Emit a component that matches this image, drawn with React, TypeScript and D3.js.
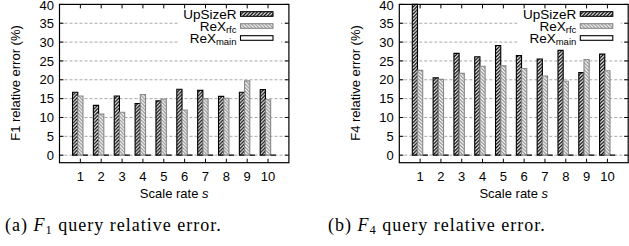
import * as d3 from "d3";
import React, { useEffect, useRef } from "react";

// Scale rates on the x axis
const scaleRates = [1, 2, 3, 4, 5, 6, 7, 8, 9, 10];
const yTicks = [0, 5, 10, 15, 20, 25, 30, 35, 40];

// F1 query relative error (%)
const f1UpSizeR = [16.7, 13.2, 15.7, 13.7, 14.4, 17.5, 17.2, 15.6, 16.7, 17.4];
const f1ReXrfc = [15.7, 10.9, 11.4, 16.1, 14.9, 12.0, 15.0, 15.1, 19.7, 14.7];
const f1ReXmain = [0, 0, 0, 0, 0, 0, 0, 0, 0, 0];

// F4 query relative error (%)
const f4UpSizeR = [40, 20.5, 27.0, 26.1, 29.1, 26.4, 25.5, 27.8, 21.9, 26.8];
const f4ReXrfc = [22.5, 20.1, 21.7, 23.6, 23.7, 23.0, 21.0, 19.6, 25.4, 22.4];
const f4ReXmain = [0, 0, 0, 0, 0, 0, 0, 0, 0, 0];

const W = 629;
const H = 246;
const sansFont = "'Liberation Sans', Arial, Helvetica, sans-serif";
const serifFont = "'Liberation Serif', 'DejaVu Serif', serif";

export default function App() {
  const ref = useRef<SVGSVGElement>(null);

  useEffect(() => {
    const svg = d3.select(ref.current);
    svg.selectAll("*").remove();

    // Hatch patterns, gnuplot style
    const defs = svg.append("defs");
    const hatch = (id: string, color: string, dir: number, sw: number) => {
      const p = defs
        .append("pattern")
        .attr("id", id)
        .attr("patternUnits", "userSpaceOnUse")
        .attr("width", 3.5)
        .attr("height", 3.5);
      p.append("rect").attr("width", 3.5).attr("height", 3.5).attr("fill", "white");
      const seg = dir > 0 ? ["M-1,1 L1,-1", "M0,3.5 L3.5,0", "M2.5,4.5 L4.5,2.5"] : ["M-1,2.5 L1,4.5", "M0,0 L3.5,3.5", "M2.5,-1 L4.5,1"];
      seg.forEach((d) => p.append("path").attr("d", d).attr("stroke", color).attr("stroke-width", sw));
    };
    hatch("hatchUp", "#000", 1, 1.3);
    hatch("hatchRfc", "#888", -1, 1.1);

    const series = [
      { name: "UpSizeR", sub: "", fill: "url(#hatchUp)", stroke: "#000" },
      { name: "ReX", sub: "rfc", fill: "url(#hatchRfc)", stroke: "#888" },
      { name: "ReX", sub: "main", fill: "white", stroke: "#000" },
    ];

    const drawPanel = (left: number, right: number, yLabelNum: string, data: number[][]) => {
      const top = 4.4;
      const bottom = 162.7;
      const x = d3.scaleLinear([0, 11], [left, right]);
      const y = d3.scaleLinear([-2, 40], [bottom, top]);
      const g = svg.append("g");

      // Grid lines
      g.append("g")
        .selectAll("line")
        .data(yTicks.filter((t) => t < 40))
        .join("line")
        .attr("x1", left)
        .attr("x2", right)
        .attr("y1", (d) => y(d))
        .attr("y2", (d) => y(d))
        .attr("stroke", "#a8a8a8")
        .attr("stroke-width", 1)
        .attr("stroke-dasharray", "3,2");

      // Legend box (covers the grid)
      const lx = left + 118.5;
      g.append("rect")
        .attr("x", lx)
        .attr("y", top + 1)
        .attr("width", 103)
        .attr("height", 40)
        .attr("fill", "white");

      // Bars
      const offsets = [-0.375, -0.125, 0.125];
      const bw = 0.25;
      series.forEach((s, si) => {
        g.append("g")
          .selectAll("path")
          .data(scaleRates)
          .join("path")
          .attr("d", (r, i) => {
            const x0 = x(r + offsets[si]);
            const x1 = x(r + offsets[si] + bw);
            return `M${x0},${y(0)} V${y(data[si][i])} H${x1} V${y(0)} Z`;
          })
          .attr("fill", s.fill)
          .attr("stroke", s.stroke)
          .attr("stroke-width", 1.1);
      });

      // Frame
      g.append("rect")
        .attr("x", left)
        .attr("y", top)
        .attr("width", right - left)
        .attr("height", bottom - top)
        .attr("fill", "none")
        .attr("stroke", "#000")
        .attr("stroke-width", 1.2);

      // Ticks
      const tk = 4;
      g.append("g")
        .selectAll("path")
        .data(yTicks)
        .join("path")
        .attr("d", (d) => `M${left},${y(d)}h${tk}M${right},${y(d)}h${-tk}`)
        .attr("stroke", "#000");
      g.append("g")
        .selectAll("path")
        .data(scaleRates)
        .join("path")
        .attr("d", (d) => `M${x(d)},${bottom}v${-tk}M${x(d)},${top}v${tk}`)
        .attr("stroke", "#000");

      // Tick labels
      g.append("g")
        .attr("font-family", sansFont)
        .attr("font-size", 13)
        .attr("text-anchor", "end")
        .selectAll("text")
        .data(yTicks)
        .join("text")
        .attr("x", left - 5.5)
        .attr("y", (d) => Math.max(y(d), 5.2))
        .attr("dy", "0.36em")
        .text((d) => d);
      g.append("g")
        .attr("font-family", sansFont)
        .attr("font-size", 13)
        .attr("text-anchor", "middle")
        .selectAll("text")
        .data(scaleRates)
        .join("text")
        .attr("x", (d) => x(d))
        .attr("y", 180.8)
        .text((d) => d);

      // Axis titles
      const xt = g
        .append("text")
        .attr("font-family", sansFont)
        .attr("font-size", 13)
        .attr("text-anchor", "middle")
        .attr("x", (left + right) / 2)
        .attr("y", 198);
      xt.append("tspan").text("Scale rate ");
      xt.append("tspan").attr("font-style", "italic").text("s");
      g.append("text")
        .attr("font-family", sansFont)
        .attr("font-size", 13)
        .attr("text-anchor", "middle")
        .attr("transform", `translate(${left - 39.5},83) rotate(-90)`)
        .text(`F${yLabelNum} relative error (%)`);

      // Legend entries
      series.forEach((s, si) => {
        const cy = 14 + si * 12;
        const t = g
          .append("text")
          .attr("font-family", sansFont)
          .attr("font-size", 13.5)
          .attr("text-anchor", "end")
          .attr("x", lx + 58.5)
          .attr("y", cy + 4.5);
        t.append("tspan").text(s.name);
        if (s.sub) t.append("tspan").attr("font-size", 9.5).attr("dy", 2.2).text(s.sub);
        g.append("rect")
          .attr("x", lx + 62.5)
          .attr("y", cy - 2.3)
          .attr("width", 32.5)
          .attr("height", 4.6)
          .attr("fill", s.fill)
          .attr("stroke", s.stroke)
          .attr("stroke-width", 1.1);
      });
    };

    drawPanel(59.5, 288.9, "1", [f1UpSizeR, f1ReXrfc, f1ReXmain]);
    drawPanel(399.3, 628.2, "4", [f4UpSizeR, f4ReXrfc, f4ReXmain]);

    // Captions
    const caption = (cx: number, letter: string, num: string) => {
      const t = svg
        .append("text")
        .attr("font-family", serifFont)
        .attr("font-size", 18)
        .attr("letter-spacing", 1)
        .attr("x", cx)
        .attr("y", 231);
      t.append("tspan").text(`(${letter}) `);
      t.append("tspan").attr("font-style", "italic").text("F");
      t.append("tspan").attr("font-size", 12.5).attr("dy", 3).text(num);
      t.append("tspan").attr("dy", -3).text(" query relative error.");
    };
    caption(5, "a", "1");
    caption(328, "b", "4");
  }, []);

  return (
    <svg
      ref={ref}
      width={W}
      height={H}
      viewBox={`0 0 ${W} ${H}`}
      style={{ position: "absolute", left: 0, top: 0, background: "white" }}
    />
  );
}
